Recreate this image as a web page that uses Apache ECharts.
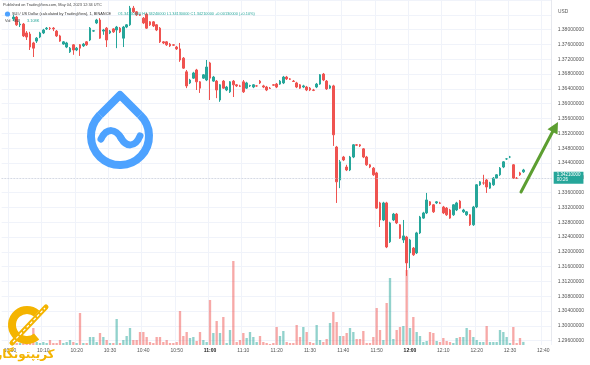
<!DOCTYPE html>
<html><head><meta charset="utf-8">
<script src="https://cdn.jsdelivr.net/npm/echarts@6/dist/echarts.min.js"></script>
<style>html,body{margin:0;padding:0;background:#fff}#c{width:590px;height:365px}</style>
</head><body><div id="c"></div>
<script>
// ---- data ----
const firstCategoryMinute = 598;   // 09:58
const categoryCount = 165;         // 09:58 .. 12:42
const firstCandleMinute = 601;     // 10:01
const timeLabels = ['10:00','10:10','10:20','10:30','10:40','10:50','11:00','11:10','11:20','11:30','11:40','11:50','12:00','12:10','12:20','12:30','12:40'];
const boldLabels = ['11:00','12:00'];
const priceMin = 1.296, priceMax = 1.388, priceStep = 0.004;
// [open, close, low, high]
const candles = [
[1.3829,1.3834,1.3823,1.3840],[1.3834,1.3813,1.3810,1.3837],[1.3813,1.3815,1.3807,1.3821],[1.3815,1.3783,1.3780,1.3818],
[1.3791,1.3780,1.3772,1.3796],[1.3788,1.3753,1.3745,1.3794],[1.3764,1.3750,1.3726,1.3767],[1.3769,1.3777,1.3764,1.3780],
[1.3780,1.3791,1.3777,1.3794],[1.3791,1.3799,1.3788,1.3802],[1.3802,1.3804,1.3799,1.3807],[1.3804,1.3803,1.3799,1.3807],
[1.3804,1.3802,1.3796,1.3807],[1.3796,1.3783,1.3780,1.3799],[1.3783,1.3769,1.3767,1.3786],[1.3761,1.3767,1.3759,1.3769],
[1.3753,1.3764,1.3750,1.3767],[1.3740,1.3750,1.3737,1.3753],[1.3759,1.3745,1.3732,1.3761],[1.3745,1.3750,1.3742,1.3753],
[1.3759,1.3750,1.3729,1.3761],[1.3756,1.3761,1.3753,1.3764],[1.3767,1.3759,1.3756,1.3769],[1.3772,1.3804,1.3769,1.3807],
[1.3796,1.3797,1.3794,1.3799],[1.3818,1.3826,1.3815,1.3829],[1.3826,1.3777,1.3775,1.3831],[1.3796,1.3799,1.3786,1.3802],
[1.3804,1.3772,1.3753,1.3807],[1.3791,1.3796,1.3788,1.3799],[1.3802,1.3794,1.3791,1.3804],[1.3799,1.3807,1.3750,1.3810],
[1.3804,1.3794,1.3791,1.3807],[1.3777,1.3807,1.3753,1.3810],[1.3807,1.3813,1.3804,1.3815],[1.3813,1.3858,1.3810,1.3864],
[1.3858,1.3848,1.3845,1.3864],[1.3848,1.3840,1.3837,1.3850],[1.3840,1.3839,1.3837,1.3842],[1.3831,1.3818,1.3815,1.3834],
[1.3842,1.3804,1.3802,1.3845],[1.3821,1.3813,1.3810,1.3823],[1.3821,1.3810,1.3807,1.3823],[1.3813,1.3799,1.3796,1.3815],
[1.3804,1.3767,1.3764,1.3807],[1.3767,1.3764,1.3761,1.3769],[1.3767,1.3759,1.3756,1.3769],[1.3761,1.3756,1.3753,1.3764],
[1.3759,1.3758,1.3756,1.3761],[1.3753,1.3748,1.3745,1.3756],[1.3748,1.3718,1.3713,1.3764],[1.3723,1.3696,1.3694,1.3726],
[1.3686,1.3648,1.3642,1.3691],[1.3656,1.3664,1.3653,1.3667],[1.3669,1.3683,1.3667,1.3686],[1.3691,1.3659,1.3637,1.3694],
[1.3659,1.3642,1.3629,1.3661],[1.3669,1.3678,1.3667,1.3680],[1.3664,1.3699,1.3661,1.3718],[1.3710,1.3669,1.3610,1.3713],
[1.3661,1.3672,1.3659,1.3675],[1.3661,1.3637,1.3615,1.3664],[1.3610,1.3651,1.3605,1.3653],[1.3661,1.3642,1.3640,1.3664],
[1.3637,1.3645,1.3634,1.3648],[1.3632,1.3659,1.3629,1.3661],[1.3661,1.3651,1.3618,1.3664],[1.3651,1.3648,1.3645,1.3653],
[1.3648,1.3647,1.3645,1.3651],[1.3659,1.3632,1.3629,1.3664],[1.3642,1.3656,1.3640,1.3659],[1.3648,1.3649,1.3645,1.3651],
[1.3645,1.3651,1.3642,1.3653],[1.3648,1.3648,1.3646,1.3650],[1.3661,1.3656,1.3653,1.3664],[1.3648,1.3645,1.3642,1.3651],
[1.3645,1.3637,1.3634,1.3648],[1.3642,1.3641,1.3640,1.3645],[1.3651,1.3650,1.3648,1.3653],[1.3653,1.3645,1.3642,1.3656],
[1.3653,1.3661,1.3651,1.3664],[1.3656,1.3672,1.3653,1.3675],[1.3672,1.3667,1.3664,1.3675],[1.3667,1.3666,1.3664,1.3669],
[1.3661,1.3660,1.3659,1.3664],[1.3656,1.3645,1.3642,1.3659],[1.3651,1.3642,1.3640,1.3653],[1.3645,1.3648,1.3642,1.3651],
[1.3645,1.3637,1.3634,1.3648],[1.3642,1.3637,1.3634,1.3645],[1.3637,1.3636,1.3634,1.3640],[1.3645,1.3653,1.3642,1.3656],
[1.3653,1.3678,1.3651,1.3680],[1.3680,1.3664,1.3661,1.3683],[1.3661,1.3640,1.3637,1.3664],[1.3642,1.3648,1.3640,1.3651],
[1.3648,1.3516,1.3486,1.3651],[1.3483,1.3389,1.3332,1.3486],[1.3394,1.3443,1.3372,1.3448],[1.3456,1.3448,1.3445,1.3459],
[1.3429,1.3421,1.3418,1.3435],[1.3421,1.3456,1.3418,1.3459],[1.3456,1.3489,1.3453,1.3491],[1.3489,1.3488,1.3486,1.3491],
[1.3489,1.3486,1.3483,1.3491],[1.3478,1.3456,1.3453,1.3480],[1.3456,1.3435,1.3432,1.3459],[1.3435,1.3429,1.3426,1.3437],
[1.3426,1.3408,1.3405,1.3429],[1.3413,1.3318,1.3316,1.3416],[1.3332,1.3286,1.3267,1.3335],[1.3286,1.3332,1.3283,1.3335],
[1.3332,1.3213,1.3210,1.3335],[1.3227,1.3278,1.3224,1.3281],[1.3286,1.3302,1.3283,1.3305],[1.3302,1.3278,1.3275,1.3305],
[1.3273,1.3237,1.3235,1.3275],[1.3232,1.3243,1.3224,1.3286],[1.3240,1.3170,1.3135,1.3243],[1.3197,1.3232,1.3156,1.3235],
[1.3210,1.3192,1.3189,1.3213],[1.3197,1.3251,1.3194,1.3254],[1.3251,1.3294,1.3248,1.3297],[1.3291,1.3305,1.3289,1.3308],
[1.3305,1.3340,1.3302,1.3359],[1.3335,1.3327,1.3324,1.3337],[1.3327,1.3308,1.3305,1.3329],[1.3332,1.3335,1.3329,1.3337],
[1.3332,1.3331,1.3329,1.3335],[1.3321,1.3305,1.3302,1.3324],[1.3318,1.3300,1.3297,1.3321],[1.3313,1.3291,1.3289,1.3316],
[1.3300,1.3327,1.3297,1.3329],[1.3313,1.3332,1.3310,1.3335],[1.3337,1.3318,1.3316,1.3340],[1.3308,1.3313,1.3305,1.3316],
[1.3300,1.3308,1.3297,1.3310],[1.3300,1.3273,1.3270,1.3302],[1.3273,1.3321,1.3270,1.3324],[1.3321,1.3381,1.3318,1.3383],
[1.3381,1.3389,1.3378,1.3391],[1.3386,1.3386,1.3381,1.3408],[1.3394,1.3375,1.3359,1.3397],[1.3372,1.3386,1.3370,1.3389],
[1.3381,1.3399,1.3378,1.3402],[1.3399,1.3408,1.3397,1.3410],[1.3408,1.3426,1.3405,1.3429],[1.3429,1.3443,1.3426,1.3445],
[1.3451,1.3451,1.3448,1.3453],[1.3456,1.3456,1.3453,1.3459],[1.3435,1.3399,1.3397,1.3437],[1.3399,1.3398,1.3397,1.3402],
[1.3413,1.3408,1.3405,1.3416],[1.3416,1.3421,1.3413,1.3424]
];
// volume in thousands of SUI
const volumesK = [3,2,2,3,4,5,17,3,2,3, 2,5,2,2,5,2,3,5,3,2, 32,2,2,8,8,3,12,8,5,2,
2,26,2,5,9,17,5,5,13,13, 8,3,2,8,8,3,5,2,2,3, 34,9,13,7,8,4,13,5,3,45,
12,24,12,28,2,15,84,3,5,12, 7,13,8,3,9,3,2,1,2,18, 9,14,3,2,2,20,8,18,13,3,
2,20,5,3,6,22,33,23,9,9, 12,17,13,6,6,14,2,2,8,37, 15,5,42,67,6,15,18,19,75,17,
28,13,9,3,4,13,12,4,3,7, 4,3,2,7,8,8,17,15,8,5, 3,3,19,3,3,3,15,13,8,2,
18,2,7,3.108];

// ---- build ----
const pad2 = n => (n < 10 ? '0' : '') + n;
const categories = [];
for (let i = 0; i < categoryCount; i++) {
  const m = firstCategoryMinute + i;
  categories.push(pad2(Math.floor(m / 60)) + ':' + pad2(m % 60));
}
const lead = firstCandleMinute - firstCategoryMinute;
const candleData = categories.map((c, i) => {
  const k = i - lead;
  return (k >= 0 && k < candles.length) ? candles[k] : '-';
});
const volData = categories.map((c, i) => {
  const k = i - lead;
  if (k >= 0 && k < volumesK.length) {
    const up = candles[k][1] >= candles[k][0];
    return { value: volumesK[k], itemStyle: { color: up ? 'rgba(38,166,154,0.5)' : 'rgba(239,83,80,0.5)' } };
  }
  return '-';
});
const last = candles[candles.length - 1];
const prev = candles[candles.length - 2];
const chg = last[1] - prev[1];
const fmt8 = v => v.toFixed(8);
const lastVol = volumesK[volumesK.length - 1];
const labelShown = (idx, val) => timeLabels.indexOf(val) >= 0;
const UP = '#26a69a', DOWN = '#ef5350';
const FONT = 'Liberation Sans';
const deg = Math.PI / 180;
const HF = 3.9;

const chart = echarts.init(document.getElementById('c'), null, { renderer: 'canvas' });
chart.setOption({
  animation: false,
  backgroundColor: '#ffffff',
  grid: [
    { left: 1.667, right: 38.333, top: 0, bottom: 24.3 },
    { left: 1.667, right: 38.333, top: 0, bottom: 20 }
  ],
  xAxis: [
    { type: 'category', gridIndex: 0, data: categories, show: false, boundaryGap: true },
    { type: 'category', gridIndex: 1, data: categories, boundaryGap: true,
      axisLine: { show: false }, axisTick: { show: false },
      axisLabel: { interval: labelShown, fontSize: 5, color: '#555', margin: 3, fontFamily: FONT,
        formatter: v => boldLabels.indexOf(v) >= 0 ? '{b|' + v + '}' : v,
        rich: { b: { fontSize: 5, fontWeight: 'bold', color: '#222', fontFamily: FONT } } },
      splitLine: { show: true, interval: labelShown, lineStyle: { color: '#f0f3fa', width: 1 } } }
  ],
  yAxis: [
    { type: 'value', gridIndex: 0, position: 'right', min: priceMin, max: priceMax, interval: priceStep,
      axisLine: { show: true, lineStyle: { color: '#e6e8ee' } }, axisTick: { show: false },
      axisLabel: { fontSize: 5, color: '#555', margin: 6, fontFamily: FONT,
        formatter: v => v > 1.3815 ? '' : fmt8(v) },
      splitLine: { show: true, lineStyle: { color: '#f0f3fa', width: 1 } } },
    { type: 'value', gridIndex: 1, min: 0, max: 345, show: false }
  ],
  series: [
    { type: 'bar', xAxisIndex: 1, yAxisIndex: 1, data: volData, barWidth: '70%', z: 1,
      markLine: { silent: true, symbol: ['none', 'none'], data: [{ yAxis: lastVol }],
        lineStyle: { opacity: 0 },
        label: { show: true, position: 'end', distance: 3, formatter: lastVol.toFixed(3) + 'K',
          backgroundColor: UP, color: '#fff', fontSize: 4.5, padding: [1, 2], fontFamily: FONT } } },
    { type: 'candlestick', xAxisIndex: 0, yAxisIndex: 0, data: candleData, barWidth: '70%', z: 3,
      itemStyle: { color: UP, color0: DOWN, borderColor: UP, borderColor0: DOWN, borderWidth: 1 },
      markLine: { silent: true, symbol: ['none', 'none'], data: [{ yAxis: last[1] }],
        lineStyle: { color: '#c9cdd6', type: [1, 2], width: 1 },
        label: { show: true, position: 'end', distance: 2,
          formatter: fmt8(last[1]) + '\n00:26',
          backgroundColor: UP, color: '#fff', fontSize: 4.5, lineHeight: 5, padding: [1, 3], fontFamily: FONT } } }
  ],
  graphic: [
    { type: 'text', x: 3, y: 5, z: 20, style: { text: 'Published on TradingView.com, May 04, 2023 12:34 UTC',
      fontSize: HF, fill: '#444', fontFamily: FONT, verticalAlign: 'middle' } },
    { type: 'circle', z: 20, shape: { cx: 7.5, cy: 14, r: 2.6 }, style: { fill: '#4da2ff' } },
    { type: 'text', x: 12, y: 14, z: 20, style: {
      text: '{t|SUI / US Dollar (calculated by TradingView), 1, BINANCE}  {g|O' + fmt8(last[0]) + ' H' + fmt8(last[3]) + ' L' + fmt8(last[2]) + ' C' + fmt8(last[1]) + ' ' + (chg >= 0 ? '+' : '') + fmt8(chg) + ' (' + (chg >= 0 ? '+' : '') + (chg / prev[1] * 100).toFixed(2) + '%)}',
      verticalAlign: 'middle', fontFamily: FONT,
      rich: { t: { fontSize: HF, fill: '#333', fontFamily: FONT }, g: { fontSize: HF, fill: UP, fontFamily: FONT } } } },
    { type: 'text', x: 5, y: 21, z: 20, style: {
      text: '{t|Vol · SUI}  {g|' + lastVol.toFixed(3) + 'K}', verticalAlign: 'middle', fontFamily: FONT,
      rich: { t: { fontSize: HF, fill: '#333', fontFamily: FONT }, g: { fontSize: HF, fill: UP, fontFamily: FONT } } } },
    { type: 'text', x: 558, y: 12, z: 20, style: { text: 'USD', fontSize: 4.8, fill: '#555', fontFamily: FONT, verticalAlign: 'middle' } },
    // SUI logo
    { type: 'arc', z: 5, shape: { cx: 120, cy: 136, r: 29, startAngle: -46.5 * deg, endAngle: 226.5 * deg, clockwise: true },
      style: { fill: 'none', stroke: '#4da2ff', lineWidth: 8 } },
    { type: 'polyline', z: 5, shape: { points: [[100, 115], [120, 95], [140, 115]] },
      style: { fill: 'none', stroke: '#4da2ff', lineWidth: 8, lineJoin: 'round' } },
    { type: 'bezierCurve', z: 5, shape: { x1: 101, y1: 139, cpx1: 107, cpy1: 127, cpx2: 116, cpy2: 129, x2: 121, y2: 138 },
      style: { fill: 'none', stroke: '#4da2ff', lineWidth: 7, lineCap: 'round' } },
    { type: 'bezierCurve', z: 5, shape: { x1: 121, y1: 138, cpx1: 126, cpy1: 147, cpx2: 135, cpy2: 148, x2: 140, y2: 136 },
      style: { fill: 'none', stroke: '#4da2ff', lineWidth: 7, lineCap: 'round' } },
    // green arrow
    { type: 'line', z: 20, shape: { x1: 521, y1: 192, x2: 553, y2: 131 }, style: { stroke: '#5c9e31', lineWidth: 3, lineCap: 'round' } },
    { type: 'polygon', z: 20, shape: { points: [[558, 122], [557.5, 134.5], [547.5, 129.3]] }, style: { fill: '#5c9e31' } },
    // gold logo
    { type: 'arc', z: 20, shape: { cx: 27, cy: 325, r: 15, startAngle: 50 * deg, endAngle: 310 * deg, clockwise: true },
      style: { stroke: '#f4b400', lineWidth: 8, fill: 'none' } },
    { type: 'line', z: 21, shape: { x1: 12, y1: 343, x2: 46, y2: 307 }, style: { stroke: '#f4b400', lineWidth: 5, lineCap: 'round' } },
    { type: 'line', z: 22, shape: { x1: 13, y1: 342, x2: 45, y2: 308 }, style: { stroke: '#ffffff', lineWidth: 1.2, lineDash: [3, 2] } },
    { type: 'text', x: 25, y: 355, z: 22, style: { text: 'کریپتونگار', fontSize: 12, fontWeight: 'bold', fill: '#f4b400',
      fontFamily: 'DejaVu Sans', align: 'center', verticalAlign: 'middle' } }
  ]
});
</script></body></html>
